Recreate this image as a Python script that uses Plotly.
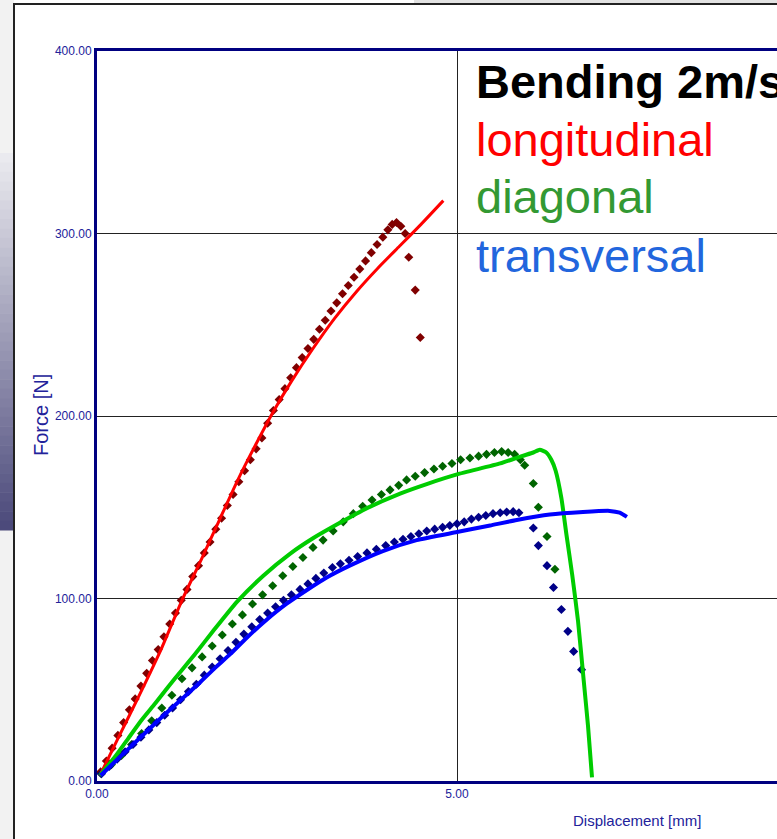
import plotly.graph_objects as go

# ---------------- data ----------------
long_line_x = [0.04, 0.30, 0.60, 0.90, 1.18, 1.45, 1.70, 1.95, 2.20, 2.45, 2.70, 3.00, 3.30, 3.60, 3.90, 4.20, 4.50, 4.81]
long_line_y = [3, 24, 48, 73, 99, 121.5, 143, 164.5, 184, 202.5, 219, 237, 253.5, 268, 281, 293, 305, 318]

long_pts_x = [0.05, 0.13, 0.21, 0.29, 0.37, 0.45, 0.53, 0.61, 0.69, 0.77, 0.85, 0.93, 1.01, 1.09, 1.17, 1.25, 1.33, 1.41, 1.49, 1.57,
              1.65, 1.73, 1.81, 1.89, 1.97, 2.05, 2.13, 2.21, 2.29, 2.37, 2.45, 2.53, 2.61, 2.69, 2.77, 2.85, 2.93, 3.01, 3.09, 3.17,
              3.25, 3.33, 3.41, 3.49, 3.57, 3.65, 3.73, 3.81, 3.89, 3.97, 4.04, 4.10, 4.16, 4.22, 4.28, 4.33, 4.42, 4.49]
long_pts_y = [5, 11, 18, 25, 32, 39, 45, 52, 59, 66, 72, 79, 86, 92, 99, 105, 112, 118, 125, 131,
              138, 144, 151, 157, 164, 170, 176, 182, 188, 196, 203, 209, 215, 221, 226.5, 232, 237, 242, 247.5, 252.5,
              257.5, 262, 267, 271.5, 276, 280.5, 285, 289.5, 294, 298, 302, 305, 306, 304, 300, 287, 269, 243]

diag_line_x = [0.04, 0.25, 0.435, 0.62, 0.81, 0.99, 1.18, 1.36, 1.61, 1.94, 2.31, 2.68, 3.00, 3.33, 3.75, 4.21, 4.60, 5.00, 5.60,
               5.90, 6.06, 6.15, 6.24, 6.31, 6.37, 6.45, 6.52, 6.60, 6.68, 6.76, 6.82, 6.875]
diag_line_y = [3, 13.3, 23.4, 33.4, 42.6, 51.7, 60.8, 69.5, 82, 98, 112.5, 124.5, 133, 140.5, 149.5, 157.5, 163, 168, 174,
               178, 180, 181.5, 180, 176, 170, 155, 135, 113, 88, 55, 30, 2]

diag_pts_x = [0.06, 0.20, 0.34, 0.48, 0.62, 0.76, 0.90, 1.04, 1.18, 1.32, 1.46, 1.60, 1.74, 1.88, 2.02, 2.16, 2.30, 2.44, 2.58, 2.72,
              2.86, 3.00, 3.14, 3.28, 3.42, 3.56, 3.69, 3.82, 3.95, 4.07, 4.19, 4.30, 4.42, 4.55, 4.68, 4.80, 4.93, 5.05, 5.18, 5.30,
              5.41, 5.52, 5.62, 5.71, 5.80, 5.88, 5.94, 6.06, 6.13, 6.25, 6.36]
diag_pts_y = [4, 9, 14, 20, 26, 33, 40, 47, 56, 62, 68, 74, 80, 86, 91, 97, 102, 107, 112.5, 117.5,
              122.5, 128, 132, 137, 142, 146.5, 150.5, 154, 157, 159.5, 162, 165, 167, 169, 171, 172.5, 174, 176, 177, 178,
              179, 180, 180.5, 180, 179, 176, 173, 163, 150, 134, 116]

trans_line_x = [0.05, 0.34, 0.62, 0.90, 1.18, 1.43, 1.64, 1.85, 2.08, 2.36, 2.63, 2.91, 3.19, 3.51, 3.97, 4.44, 5.00, 5.46, 5.83, 6.29, 6.75, 7.12, 7.26, 7.36]
trans_line_y = [3, 14, 24.5, 35, 45, 54, 62, 69.5, 78.5, 88.5, 97, 104.5, 111.5, 118, 126, 132, 136.4, 140, 143, 146, 147.4, 148, 147, 144.7]

trans_pts_x = [0.06, 0.17, 0.28, 0.39, 0.50, 0.61, 0.72, 0.83, 0.94, 1.05, 1.16, 1.27, 1.38, 1.49, 1.60, 1.71, 1.82, 1.93, 2.04, 2.15,
               2.26, 2.37, 2.48, 2.59, 2.70, 2.82, 2.93, 3.04, 3.15, 3.27, 3.38, 3.50, 3.62, 3.75, 3.88, 4.01, 4.13, 4.25, 4.36, 4.47,
               4.58, 4.69, 4.80, 4.90, 5.00, 5.10, 5.20, 5.30, 5.40, 5.50, 5.60, 5.69, 5.78, 5.86, 6.06, 6.13, 6.25, 6.34, 6.45, 6.54,
               6.62, 6.73]
trans_pts_y = [4, 8, 12, 16, 20, 24, 28, 32, 36, 40, 44.5, 49, 53, 58, 62.5, 67, 71.5, 76, 80.5, 84.5,
               88.5, 92, 95.5, 99, 102, 105, 108, 111, 114, 117, 119, 121, 123, 125, 127, 129, 131, 132.5, 134, 135.5,
               137, 138, 139, 140, 141, 142, 143.5, 144.5, 145.5, 146.5, 147, 147.4, 147.6, 147, 138.6, 129, 118, 106, 94, 82,
               71, 61]

x_ticks = [0, 5]
x_tick_labels = ["0.00", "5.00"]
y_ticks = [0, 100, 200, 300, 400]
y_tick_labels = ["0.00", "100.00", "200.00", "300.00", "400.00"]

title_text = "Bending 2m/s"
legend_texts = ["longitudinal", "diagonal", "transversal"]
legend_colors = ["#ff0000", "#339933", "#2266dd"]

# ---------------- figure ----------------
W, H = 777, 839
ML, MR, MT, MB = 97, 0, 51, 58
PW = W - ML - MR
PH = H - MT - MB

def px2paper_x(px):
    return (px - ML) / PW

def px2paper_y(py):
    return (H - MB - py) / PH

fig = go.Figure()

diam = dict(symbol="diamond", size=7, line=dict(width=0))
fig.add_trace(go.Scatter(x=long_pts_x, y=long_pts_y, mode="markers", marker=dict(color="#800000", **diam), showlegend=False))
fig.add_trace(go.Scatter(x=diag_pts_x, y=diag_pts_y, mode="markers", marker=dict(color="#006400", **diam), showlegend=False))
fig.add_trace(go.Scatter(x=trans_pts_x, y=trans_pts_y, mode="markers", marker=dict(color="#000088", **diam), showlegend=False))
fig.add_trace(go.Scatter(x=long_line_x, y=long_line_y, mode="lines", line=dict(color="#ff0000", width=3, shape="spline", smoothing=0.5), showlegend=False))
fig.add_trace(go.Scatter(x=diag_line_x, y=diag_line_y, mode="lines", line=dict(color="#00cc00", width=4, shape="spline", smoothing=0.5), showlegend=False))
fig.add_trace(go.Scatter(x=trans_line_x, y=trans_line_y, mode="lines", line=dict(color="#0000ff", width=4, shape="spline", smoothing=0.5), showlegend=False))

axis_font = dict(family="Liberation Sans, Arial, sans-serif", size=12, color="#22229a")

fig.update_xaxes(range=[0, PW / 72.0], tickvals=x_ticks, ticktext=x_tick_labels, showgrid=True, gridcolor="#222222", gridwidth=1,
                 showline=True, linecolor="#000080", linewidth=3, mirror=True, zeroline=False, ticks="", tickfont=axis_font)
fig.update_yaxes(range=[0, 400], tickvals=y_ticks, ticktext=y_tick_labels, showgrid=True, gridcolor="#222222", gridwidth=1,
                 showline=True, linecolor="#000080", linewidth=3, mirror=False, zeroline=False, ticks="", tickfont=axis_font)

shapes = []
# left decorative strip
shapes.append(dict(type="rect", xref="paper", yref="paper", x0=px2paper_x(0), x1=px2paper_x(14), y0=px2paper_y(0), y1=px2paper_y(H),
                   fillcolor="#f2f2f2", line=dict(width=0), layer="below"))
n = 40
top_c = (236, 236, 240)
bot_c = (74, 72, 122)
y_a, y_b = 153, 530
for i in range(n):
    t = (i + 0.5) / n
    c = tuple(int(round(top_c[k] + (bot_c[k] - top_c[k]) * t)) for k in range(3))
    ya = y_a + (y_b - y_a) * i / n
    yb = y_a + (y_b - y_a) * (i + 1) / n + 0.5
    shapes.append(dict(type="rect", xref="paper", yref="paper", x0=px2paper_x(0), x1=px2paper_x(13), y0=px2paper_y(ya), y1=px2paper_y(yb),
                       fillcolor="rgb(%d,%d,%d)" % c, line=dict(width=0), layer="below"))
# top strip
shapes.append(dict(type="rect", xref="paper", yref="paper", x0=px2paper_x(414), x1=px2paper_x(W), y0=px2paper_y(0), y1=px2paper_y(3),
                   fillcolor="#e2e2e2", line=dict(width=0), layer="below"))
shapes.append(dict(type="rect", xref="paper", yref="paper", x0=px2paper_x(0), x1=px2paper_x(14), y0=px2paper_y(0), y1=px2paper_y(3),
                   fillcolor="#f2f2f2", line=dict(width=0), layer="below"))
# frame lines
shapes.append(dict(type="line", xref="paper", yref="paper", x0=px2paper_x(14), x1=px2paper_x(14), y0=px2paper_y(3), y1=px2paper_y(H),
                   line=dict(color="#222222", width=2)))
shapes.append(dict(type="line", xref="paper", yref="paper", x0=px2paper_x(14), x1=px2paper_x(W), y0=px2paper_y(4), y1=px2paper_y(4),
                   line=dict(color="#222222", width=2)))

annotations = []
text_font = "Liberation Sans, Arial, sans-serif"
lines_all = [(title_text, "#000000", True, 98)] + [(t, c, False, b) for t, c, b in zip(legend_texts, legend_colors, [156, 213, 272])]
for txt, col, bold, base in lines_all:
    annotations.append(dict(xref="paper", yref="paper", x=px2paper_x(474), y=px2paper_y(base - 16.5), xanchor="left", yanchor="middle",
                            text=("<b>%s</b>" % txt) if bold else txt, showarrow=False,
                            font=dict(family=text_font, size=47, color=col)))
annotations.append(dict(xref="paper", yref="paper", x=px2paper_x(41), y=px2paper_y(415), text="Force [N]", textangle=-90,
                        showarrow=False, xanchor="center", yanchor="middle",
                        font=dict(family=text_font, size=20, color="#22229a")))
annotations.append(dict(xref="paper", yref="paper", x=px2paper_x(637), y=px2paper_y(820), text="Displacement [mm]",
                        showarrow=False, xanchor="center", yanchor="middle",
                        font=dict(family=text_font, size=15, color="#22229a")))

fig.update_layout(width=W, height=H, margin=dict(l=ML, r=MR, t=MT, b=MB), paper_bgcolor="white", plot_bgcolor="white",
                  shapes=shapes, annotations=annotations, showlegend=False)

fig.write_html("out.html", config={"displayModeBar": False},
               post_script="document.body.style.margin='0px';document.body.style.overflow='hidden';")
